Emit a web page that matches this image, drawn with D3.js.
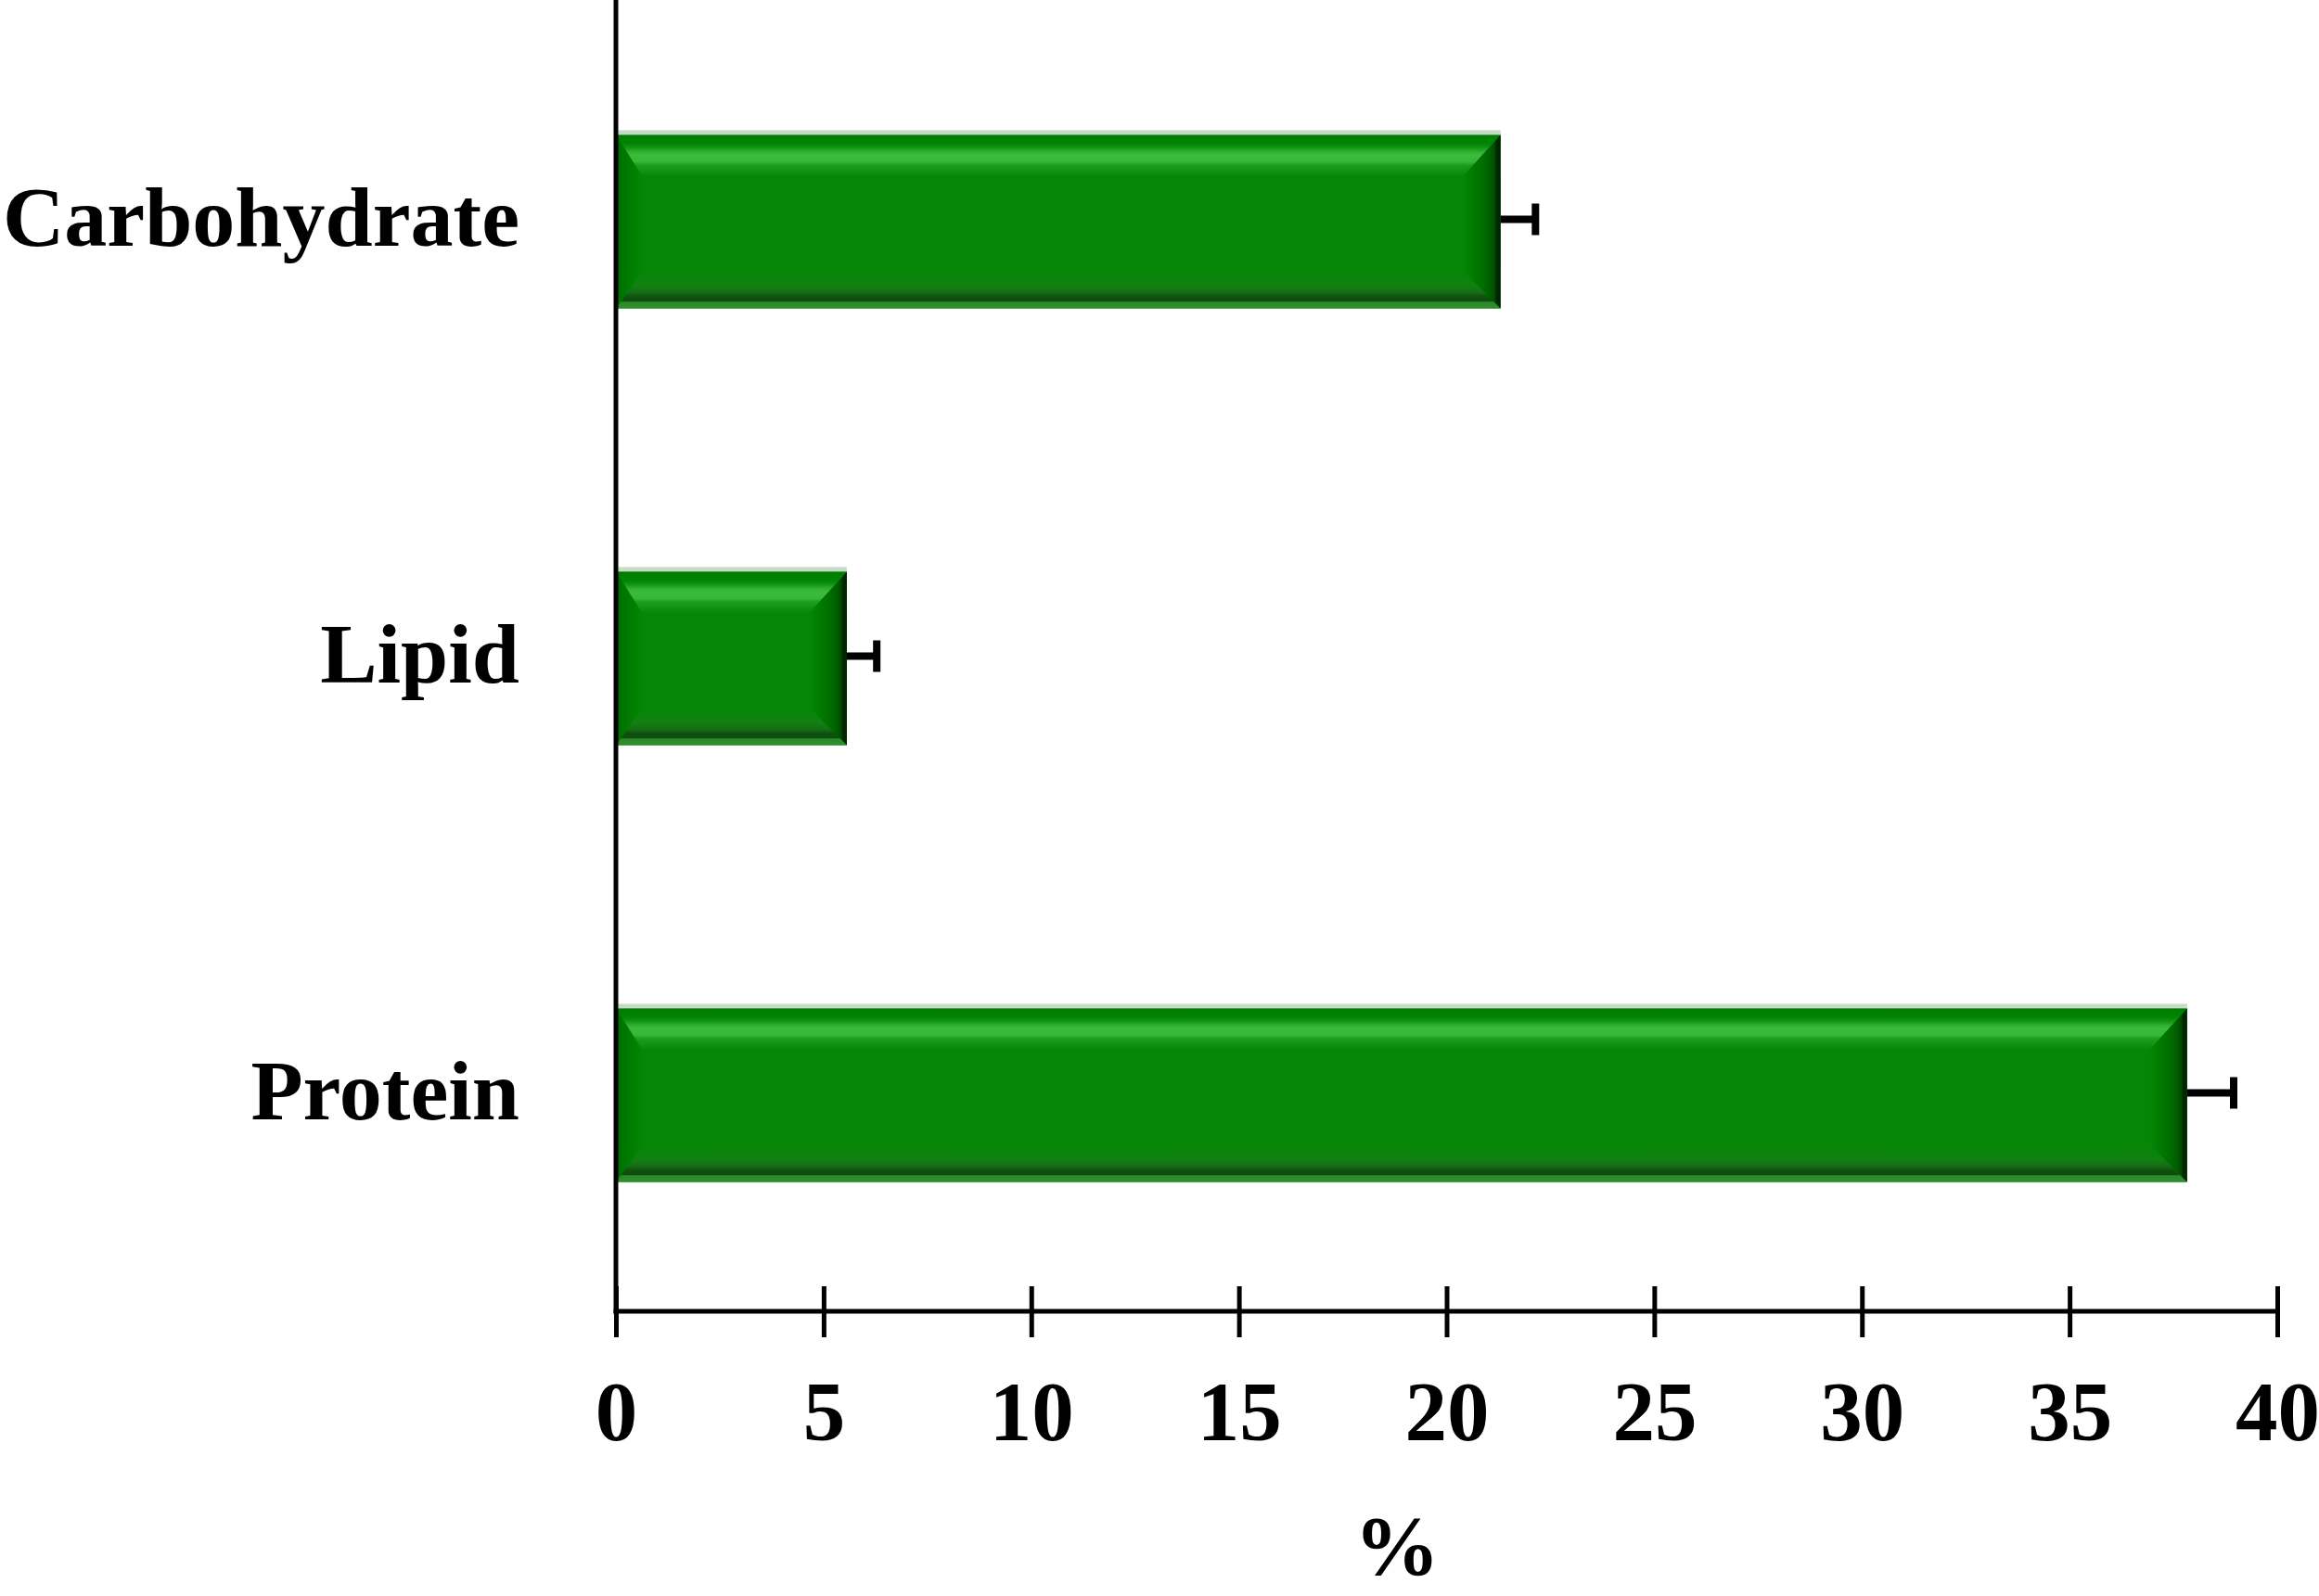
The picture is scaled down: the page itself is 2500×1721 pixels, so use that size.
<!DOCTYPE html>
<html>
<head>
<meta charset="utf-8">
<script src="https://cdn.jsdelivr.net/npm/d3@7"></script>
<style>
  html, body { margin: 0; padding: 0; background: #ffffff; }
  svg { display: block; }
  text { font-family: "Liberation Serif", "Times New Roman", serif; font-weight: bold; fill: #000; }
</style>
</head>
<body>
<svg id="chart" width="2500" height="1721"></svg>
<script>
// ---- data ----
const categories = ["Carbohydrate", "Lipid", "Protein"];
const values = [21.3, 5.56, 37.83];
const errors = [0.84, 0.72, 1.12];
const xTicks = [0, 5, 10, 15, 20, 25, 30, 35, 40];
const xLabel = "%";

// ---- layout ----
const W = 2500, H = 1721;
const axisX = 664, axisY = 1414, xRight = 2455;

const svg = d3.select("#chart");
const defs = svg.append("defs");

const x = d3.scaleLinear().domain([0, 40]).range([axisX, xRight]);
const y = d3.scaleBand().domain(categories).range([1, axisY])
  .paddingInner(0.592).paddingOuter(0.296);

function grad(id, x1, y1, x2, y2, stops) {
  const g = defs.append("linearGradient").attr("id", id)
    .attr("x1", x1).attr("y1", y1).attr("x2", x2).attr("y2", y2);
  stops.forEach(([o, c]) => g.append("stop").attr("offset", o).attr("stop-color", c));
}
grad("gTop", 0, 0, 0, 1, [[0, "#007c00"], [0.2, "#008300"], [0.3, "#0f920f"], [0.42, "#30b230"], [0.5, "#3cbc3c"], [0.66, "#37b737"], [0.74, "#1d9d1d"], [1, "#078a07"]]);
grad("gBottom", 0, 0, 0, 1, [[0, "#068606"], [0.4, "#118011"], [0.58, "#166b16"], [0.68, "#0d520d"], [0.8, "#0e4c0e"], [0.83, "#2a882a"], [1, "#2f8f2f"]]);
grad("gRight", 0, 0, 1, 0, [[0, "#058505"], [0.3, "#007a00"], [0.55, "#006c00"], [0.75, "#005a00"], [0.86, "#004400"], [0.88, "#002a00"], [1, "#002400"]]);
grad("gLeft", 0, 0, 1, 0, [[0, "#006a00"], [0.25, "#007200"], [0.5, "#007c00"], [1, "#058505"]]);

const bars = svg.append("g");
categories.forEach((c, i) => {
  const x0 = x(0), x1 = x(values[i]);
  const yTop = y(c), h = y.bandwidth(), yB = yTop + h;
  const strip = 5;
  const yT = yTop + strip;
  const T = 44, B = 40, R = 40, L = 28;
  const g = bars.append("g");
  g.append("rect").attr("x", x0).attr("y", yT).attr("width", x1 - x0).attr("height", yB - yT).attr("fill", "#058705");
  g.append("rect").attr("x", x0).attr("y", yTop).attr("width", x1 - x0).attr("height", strip).attr("fill", "#c6dbc6");
  const pts = a => a.map(p => p.join(",")).join(" ");
  g.append("polygon").attr("points", pts([[x0, yT], [x1, yT], [x1 - R, yT + T], [x0 + L, yT + T]])).attr("fill", "url(#gTop)");
  g.append("polygon").attr("points", pts([[x0 + L, yB - B], [x1 - R, yB - B], [x1, yB], [x0, yB]])).attr("fill", "url(#gBottom)");
  g.append("polygon").attr("points", pts([[x0, yT], [x0 + L, yT + T], [x0 + L, yB - B], [x0, yB]])).attr("fill", "url(#gLeft)");
  g.append("polygon").attr("points", pts([[x1 - R, yT + T], [x1, yT], [x1, yB], [x1 - R, yB - B]])).attr("fill", "url(#gRight)");

  const yc = yTop + h / 2;
  const xe = x(values[i] + errors[i]);
  g.append("line").attr("x1", x1).attr("x2", xe).attr("y1", yc).attr("y2", yc)
    .attr("stroke", "#000").attr("stroke-width", 8);
  g.append("line").attr("x1", xe).attr("x2", xe).attr("y1", yc - 17).attr("y2", yc + 17)
    .attr("stroke", "#000").attr("stroke-width", 8);

  svg.append("text").attr("x", 560).attr("y", yc + 28).attr("text-anchor", "end")
    .attr("font-size", 92).text(c);
});

svg.append("line").attr("x1", axisX).attr("x2", axisX).attr("y1", 0).attr("y2", axisY + 2.5)
  .attr("stroke", "#000").attr("stroke-width", 5);

const xAxis = d3.axisBottom(x).tickValues(xTicks).tickSize(55).tickSizeOuter(0).tickFormat(d3.format("d"));
const gx = svg.append("g").attr("transform", `translate(0,${axisY - 27})`).call(xAxis);
gx.select(".domain").remove();
gx.selectAll(".tick line").attr("stroke", "#000").attr("stroke-width", 5);
gx.selectAll(".tick text").attr("y", 166).attr("dy", 0)
  .attr("font-size", 91).attr("font-family", "Liberation Serif, Times New Roman, serif")
  .attr("font-weight", "bold").attr("fill", "#000");
svg.append("line").attr("x1", axisX - 2.5).attr("x2", xRight + 2.5).attr("y1", axisY).attr("y2", axisY)
  .attr("stroke", "#000").attr("stroke-width", 5);

svg.append("text").attr("x", 1506).attr("y", 1698).attr("text-anchor", "middle")
  .attr("font-size", 92).text(xLabel);
</script>
</body>
</html>
